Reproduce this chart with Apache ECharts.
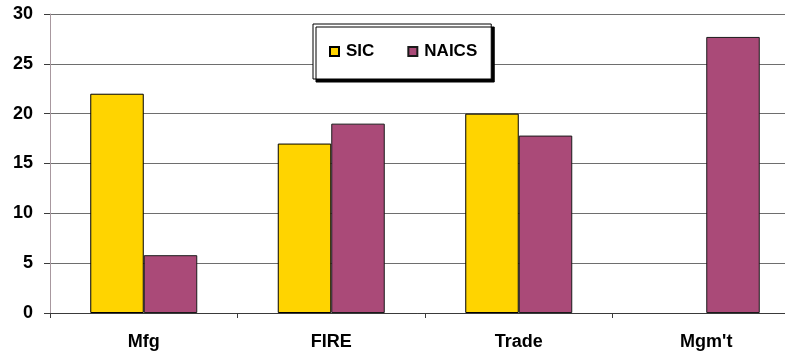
<!DOCTYPE html>
<html>
<head>
<meta charset="utf-8">
<script src="https://cdn.jsdelivr.net/npm/echarts@6/dist/echarts.min.js"></script>
<style>
  html, body { margin: 0; padding: 0; background: #ffffff; }
  #chart { width: 785px; height: 355px; }
</style>
</head>
<body>
<div id="chart"></div>
<script>
// Industry groups and the shares under each classification system
const categories = ['Mfg', 'FIRE', 'Trade', "Mgm't"];
const sicValues = [22, 17, 20, null];
const naicsValues = [5.8, 19, 17.8, 27.7];
const yTicks = { min: 0, max: 30, interval: 5 };

const FONT = '"Liberation Sans", Arial, sans-serif';

const chart = echarts.init(document.getElementById('chart'), null, { renderer: 'canvas' });

chart.setOption({
  animation: false,
  backgroundColor: '#ffffff',
  grid: { left: 50, top: 14, width: 750, height: 299, containLabel: false, outerBoundsMode: 'none' },
  legend: {
    data: ['SIC', 'NAICS'],
    left: 313,
    top: 24,
    padding: [19, 14, 19, 16],
    itemGap: 33,
    itemWidth: 9,
    itemHeight: 9,
    icon: 'rect',
    backgroundColor: '#ffffff',
    borderColor: '#000000',
    borderWidth: 1,
    shadowColor: '#000000',
    shadowBlur: 0,
    shadowOffsetX: 3,
    shadowOffsetY: 3,
    textStyle: { fontFamily: FONT, fontSize: 17, fontWeight: 'bold', color: '#000000', padding: [0, 0, 0, 2] }
  },
  xAxis: {
    type: 'category',
    data: categories,
    boundaryGap: true,
    axisLine: { show: true, lineStyle: { color: '#3a3a3a', width: 1 } },
    axisTick: { show: true, alignWithLabel: false, length: 5, lineStyle: { color: '#3a3a3a' } },
    axisLabel: { fontFamily: FONT, fontSize: 18, fontWeight: 'bold', color: '#000000', margin: 20 },
    splitLine: { show: false }
  },
  yAxis: {
    type: 'value',
    min: yTicks.min,
    max: yTicks.max,
    interval: yTicks.interval,
    axisLine: { show: true, lineStyle: { color: '#a8989f', width: 1 } },
    axisTick: { show: true, length: 6, lineStyle: { color: '#3a3a3a' } },
    axisLabel: { fontFamily: FONT, fontSize: 18, fontWeight: 'bold', color: '#000000', margin: 17 },
    splitLine: { show: true, lineStyle: { color: '#6e6e6e', width: 1 } }
  },
  series: [
    {
      name: 'SIC',
      type: 'bar',
      data: sicValues,
      barWidth: 53.5,
      barGap: '0%',
      itemStyle: { color: '#FFD400', borderColor: '#000000', borderWidth: 1 }
    },
    {
      name: 'NAICS',
      type: 'bar',
      data: naicsValues,
      barWidth: 53.5,
      barGap: '0%',
      itemStyle: { color: '#AA4A78', borderColor: '#1a1a1a', borderWidth: 1 }
    }
  ]
});
</script>
</body>
</html>
